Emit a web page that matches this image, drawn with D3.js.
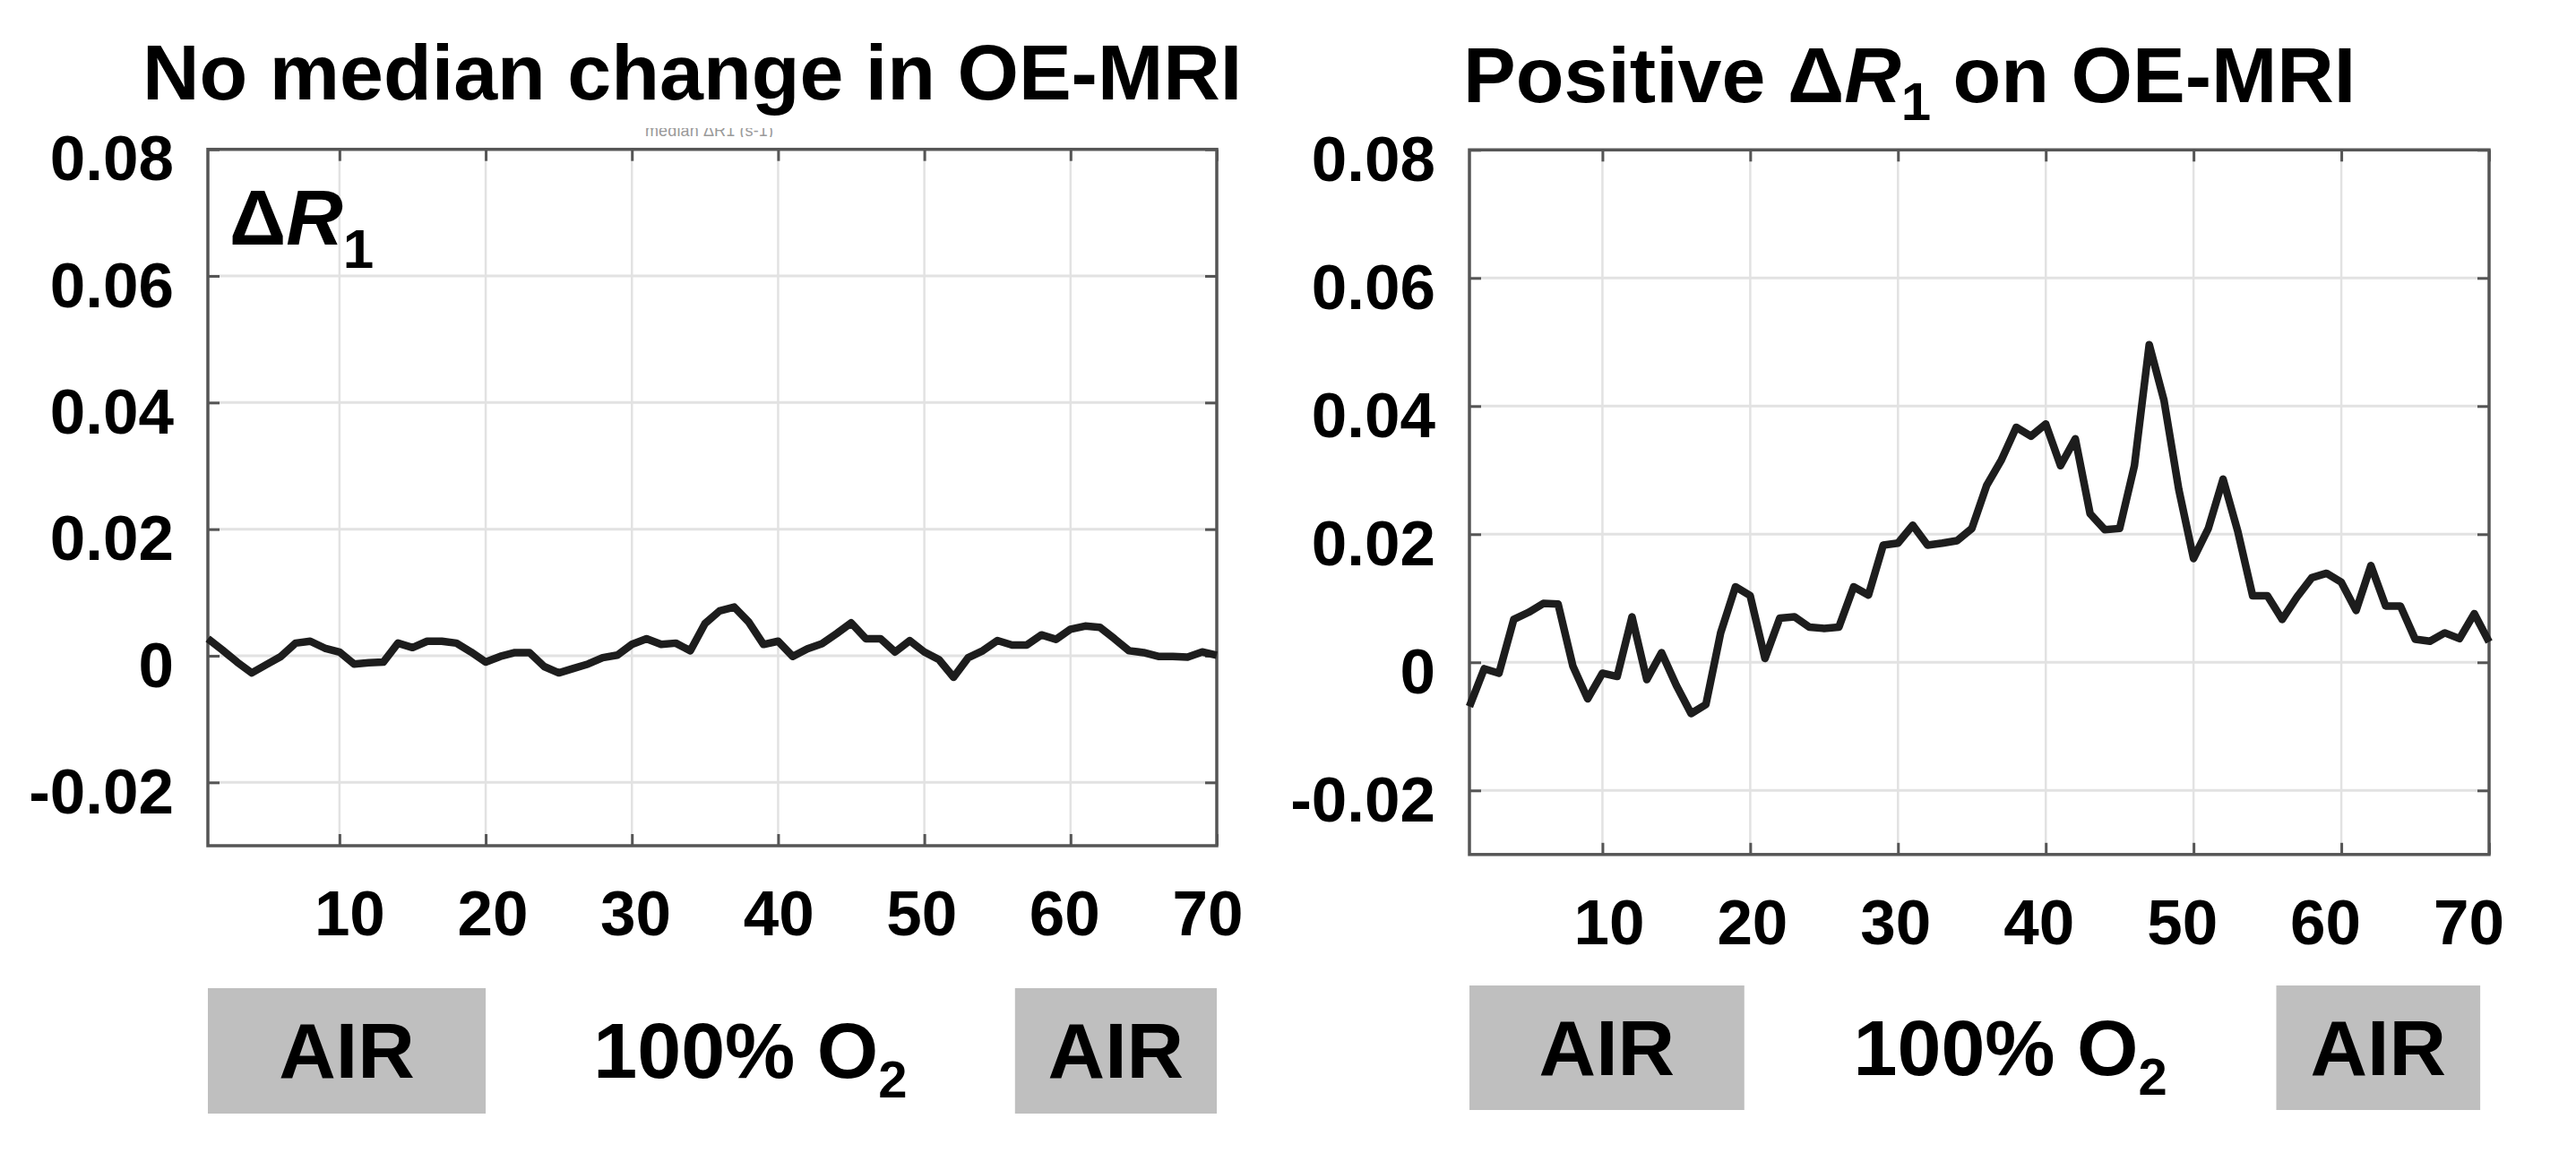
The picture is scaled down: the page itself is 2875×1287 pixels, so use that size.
<!DOCTYPE html>
<html>
<head>
<meta charset="utf-8">
<script src="https://cdn.jsdelivr.net/npm/d3@7"></script>
<style>
  body { margin: 0; background: #fff; }
  svg { display: block; }
  text { font-family: "Liberation Sans", Arial, sans-serif; font-weight: bold; }
</style>
</head>
<body>
<div id="container"></div>
<script>
const width = 2875;
const height = 1287;

// median delta R1 per dynamic (frame 1..70)
const noChangeR1 = [
  0.0027, 0.0009, -0.0010, -0.0027, -0.0014, -0.0001, 0.0020, 0.0023, 0.0012, 0.0006,
  -0.0013, -0.0011, -0.0010, 0.0020, 0.0013, 0.0023, 0.0023, 0.0020, 0.0006, -0.0010,
  -0.0001, 0.0005, 0.0005, -0.0017, -0.0027, -0.0020, -0.0013, -0.0003, 0.0001, 0.0018,
  0.0027, 0.0018, 0.0020, 0.0008, 0.0051, 0.0071, 0.0077, 0.0053, 0.0018, 0.0023,
  -0.0001, 0.0011, 0.0019, 0.0035, 0.0052, 0.0027, 0.0027, 0.0006, 0.0024, 0.0006,
  -0.0006, -0.0034, -0.0003, 0.0008, 0.0024, 0.0017, 0.0017, 0.0033, 0.0026, 0.0042,
  0.0047, 0.0045, 0.0027, 0.0008, 0.0005, -0.0001, -0.0001, -0.0002, 0.0006, 0.0001
];

const positiveR1 = [
  -0.0069, -0.0010, -0.0017, 0.0067, 0.0078, 0.0092, 0.0091, -0.0006, -0.0057, -0.0017,
  -0.0022, 0.0071, -0.0027, 0.0015, -0.0036, -0.0080, -0.0066, 0.0046, 0.0118, 0.0104,
  0.0006, 0.0069, 0.0071, 0.0055, 0.0053, 0.0055, 0.0118, 0.0105, 0.0183, 0.0186,
  0.0214, 0.0183, 0.0186, 0.0190, 0.0209, 0.0276, 0.0316, 0.0367, 0.0353, 0.0372,
  0.0307, 0.0349, 0.0232, 0.0207, 0.0209, 0.0307, 0.0496, 0.0409, 0.0270, 0.0162,
  0.0209, 0.0286, 0.0204, 0.0104, 0.0104, 0.0067, 0.0102, 0.0132, 0.0139, 0.0125,
  0.0081, 0.0151, 0.0088, 0.0088, 0.0036, 0.0033, 0.0046, 0.0037, 0.0076, 0.0032
];

const xTicks = [10, 20, 30, 40, 50, 60, 70];
const yTicks = [-0.02, 0, 0.02, 0.04, 0.06, 0.08];
const yTickLabels = ["-0.02", "0", "0.02", "0.04", "0.06", "0.08"];

// gas phases, in frame units
const airPhasesLeft = [[1, 20], [56.2, 70]];
const airPhasesRight = [[1, 19.6], [55.6, 69.4]];

const svg = d3.select("#container").append("svg")
    .attr("width", width)
    .attr("height", height);

svg.append("rect").attr("width", width).attr("height", height).attr("fill", "#fff");

function drawPanel(p) {
    const x = d3.scaleLinear().domain([1, 70]).range([p.x0, p.x1]);
    const y = d3.scaleLinear().domain([-0.03, 0.08]).range([p.y1, p.y0]);
    const g = svg.append("g");

    // grid
    g.selectAll(".vgrid").data(xTicks.filter(d => d < 70)).enter().append("line")
        .attr("x1", d => x(d)).attr("x2", d => x(d))
        .attr("y1", p.y0).attr("y2", p.y1)
        .attr("stroke", "#e2e2e2").attr("stroke-width", 2.5);
    g.selectAll(".hgrid").data(yTicks).enter().append("line")
        .attr("x1", p.x0).attr("x2", p.x1)
        .attr("y1", d => y(d)).attr("y2", d => y(d))
        .attr("stroke", "#e2e2e2").attr("stroke-width", 3);

    // axes, ticks inside like matlab
    const left = g.append("g").attr("transform", `translate(${p.x0},0)`)
        .call(d3.axisLeft(y).tickValues(yTicks).tickSize(-13).tickSizeOuter(0).tickPadding(38)
            .tickFormat((d, i) => yTickLabels[i]));
    const right = g.append("g").attr("transform", `translate(${p.x1},0)`)
        .call(d3.axisRight(y).tickValues(yTicks).tickSize(-13).tickSizeOuter(0).tickFormat(""));
    const top = g.append("g").attr("transform", `translate(0,${p.y0})`)
        .call(d3.axisTop(x).tickValues(xTicks).tickSize(-13).tickSizeOuter(0).tickFormat(""));
    const bottom = g.append("g").attr("transform", `translate(0,${p.y1})`)
        .call(d3.axisBottom(x).tickValues(xTicks).tickSize(-13).tickSizeOuter(0).tickPadding(50));

    [left, right, top, bottom].forEach(a => {
        a.select(".domain").remove();
        a.selectAll(".tick line").attr("stroke", "#555").attr("stroke-width", 3);
        a.selectAll("text").attr("fill", "#000")
            .style("font-family", "'Liberation Sans', Arial, sans-serif")
            .style("font-weight", "bold").style("font-size", "71px");
    });
    left.selectAll("text").attr("dy", "0.48em");
    // the x labels drift a little from their ticks in the original figure
    bottom.selectAll("text").attr("dx", d => p.labelShift(d));

    // frame
    g.append("rect")
        .attr("x", p.x0).attr("y", p.y0)
        .attr("width", p.x1 - p.x0).attr("height", p.y1 - p.y0)
        .attr("fill", "none").attr("stroke", "#555").attr("stroke-width", 3.5);

    // median delta R1 trace
    const line = d3.line()
        .x((d, i) => x(i + 1))
        .y(d => y(d));
    g.append("path")
        .datum(p.values)
        .attr("d", line)
        .attr("fill", "none")
        .attr("stroke", "#1d1d1d")
        .attr("stroke-width", 8.5)
        .attr("stroke-linejoin", "round");

    // title
    const title = svg.append("text")
        .attr("x", p.titleX).attr("y", p.titleY)
        .style("font-size", "88px");
    p.title(title);

    // gas phase boxes
    svg.selectAll(null).data(p.air).enter().append("rect")
        .attr("x", d => x(d[0])).attr("width", d => x(d[1]) - x(d[0]))
        .attr("y", p.boxY).attr("height", p.boxH)
        .attr("fill", "#bfbfbf");
    svg.selectAll(null).data(p.air).enter().append("text")
        .attr("x", d => (x(d[0]) + x(d[1])) / 2)
        .attr("y", p.boxY + 100)
        .attr("text-anchor", "middle")
        .style("font-size", "88px")
        .text("AIR");
    const o2 = svg.append("text")
        .attr("x", x((p.air[0][1] + p.air[1][0]) / 2))
        .attr("y", p.boxY + 100)
        .attr("text-anchor", "middle")
        .style("font-size", "88px");
    o2.append("tspan").text("100% O");
    o2.append("tspan").attr("dy", 22).style("font-size", "58px").text("2");

    return { x, y, g };
}

drawPanel({
    x0: 232, x1: 1358, y0: 166.7, y1: 944,
    values: noChangeR1,
    air: airPhasesLeft,
    boxY: 1103, boxH: 140,
    titleX: 159, titleY: 111,
    labelShift: d => 11 - 3.6 * (d - 10) / 10,
    title: t => t.text("No median change in OE-MRI")
});

drawPanel({
    x0: 1640, x1: 2778, y0: 167.3, y1: 953.8,
    values: positiveR1,
    air: airPhasesRight,
    boxY: 1100, boxH: 139,
    titleX: 1633, titleY: 114,
    labelShift: d => 7 - 5 * (d - 10) / 10,
    title: t => {
        t.append("tspan").text("Positive \u0394");
        t.append("tspan").style("font-style", "italic").text("R");
        t.append("tspan").attr("dy", 20).style("font-size", "60px").text("1");
        t.append("tspan").attr("dy", -20).text(" on OE-MRI");
    }
});

// delta R1 label inside left panel
const dr = svg.append("text")
    .attr("x", 256).attr("y", 273)
    .style("font-size", "88px");
dr.append("tspan").text("\u0394");
dr.append("tspan").style("font-style", "italic").text("R");
dr.append("tspan").attr("dy", 26).style("font-size", "62px").text("1");

// clipped remnant of a hidden label above the left panel
svg.append("clipPath").attr("id", "remnant")
    .append("rect").attr("x", 715).attr("y", 143).attr("width", 160).attr("height", 10);
svg.append("text")
    .attr("clip-path", "url(#remnant)")
    .attr("x", 720).attr("y", 152)
    .attr("textLength", 143)
    .attr("fill", "#9a9a9a")
    .style("font-size", "18px")
    .style("font-weight", "normal")
    .text("median \u0394R1 (s-1)");
</script>
</body>
</html>
